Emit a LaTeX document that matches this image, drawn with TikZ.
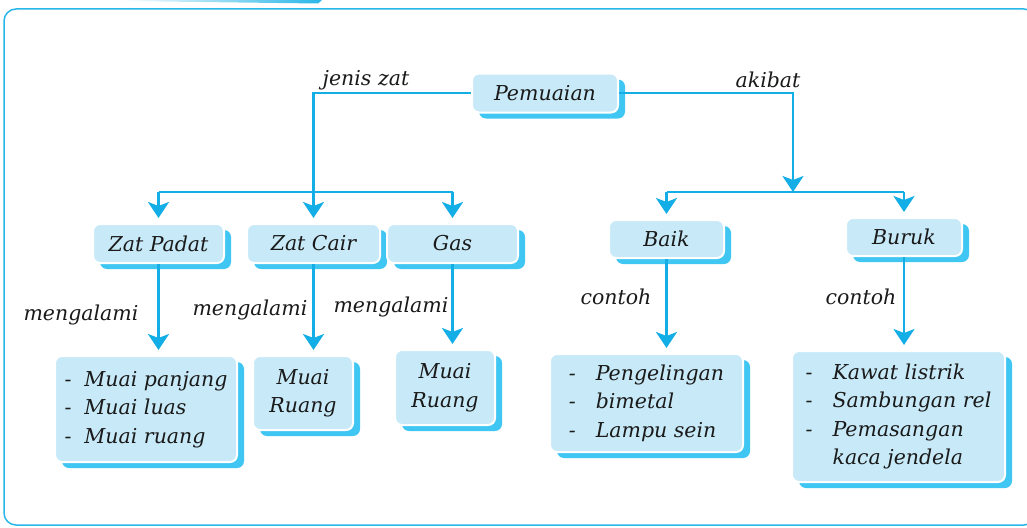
\documentclass[tikz,border=0pt]{standalone}
\usepackage{fontspec}
\setmainfont{DejaVu Serif}
\usetikzlibrary{arrows.meta,shadows}
\definecolor{linecol}{HTML}{14AEE6}
\definecolor{boxfill}{HTML}{C8EAF8}
\definecolor{shadowcol}{HTML}{40C6F2}
\definecolor{framecol}{HTML}{29B6E8}
\definecolor{txt}{HTML}{1A1A1A}
\tikzset{
  box/.style={rounded corners=7pt, fill=boxfill, draw=white, line width=2pt,
    drop shadow={shadow xshift=7pt, shadow yshift=-6pt, fill=shadowcol, opacity=1},
    inner sep=0pt, align=center, text=txt, font=\fontsize{20.5}{28.5}\selectfont\itshape},
  lbl/.style={text=txt, font=\fontsize{20.5}{22}\selectfont\itshape, inner sep=0pt},
  conn/.style={draw=linecol, line width=2.5pt},
  arr/.style={conn, -{Stealth[width=21pt,length=16pt,inset=4pt]}, shorten >=5pt},
}
\begin{document}
\begin{tikzpicture}[x=1pt,y=-1pt]
\useasboundingbox (0,0) rectangle (1027,527);
% frame
\shade[left color=white, right color=framecol] (120,0) -- (322,0) -- (318,3.5) -- (120,1) -- cycle;
\draw[framecol, line width=1.5pt, rounded corners=12pt] (4,9) rectangle (1036,525);
% nodes
\node[box, minimum width=146pt, minimum height=39pt] (P) at (545,93) {Pemuaian};
\node[box, minimum width=131pt, minimum height=39pt] (ZP) at (158.5,243.5) {Zat Padat};
\node[box, minimum width=133pt, minimum height=39pt] (ZC) at (313.5,243.5) {Zat Cair};
\node[box, minimum width=131pt, minimum height=39pt] (G) at (452.5,243.5) {Gas};
\node[box, minimum width=115pt, minimum height=38pt] (Bk) at (666.5,239) {Baik};
\node[box, minimum width=116pt, minimum height=38pt] (Br) at (904,237) {Buruk};
\node[box, minimum width=182pt, minimum height=106pt] (B1) at (146,409)
  {\begin{tabular}{@{}l@{\hspace{13pt}}l@{}}-&Muai panjang\\-&Muai luas\\-&Muai ruang\end{tabular}};
\node[box, minimum width=100pt, minimum height=74pt] (B2) at (303,393) {Muai\\Ruang};
\node[box, minimum width=100pt, minimum height=75pt] (B3) at (445,387.5) {Muai\\Ruang};
\node[box, minimum width=193pt, minimum height=98pt] (B4) at (646.5,403)
  {\begin{tabular}{@{}l@{\hspace{20pt}}l@{}}-&Pengelingan\\-&bimetal\\-&Lampu sein\end{tabular}};
\node[box, minimum width=213pt, minimum height=131pt] (B5) at (898.5,416.5)
  {\begin{tabular}{@{}l@{\hspace{20pt}}l@{}}-&Kawat listrik\\-&Sambungan rel\\-&Pemasangan\\&kaca jendela\end{tabular}};
% labels
\node[lbl] (l1) at (366,80) {jenis zat};
\node[lbl] (l2) at (768,80) {akibat};
\node[lbl] (l3) at (81,315) {mengalami};
\node[lbl] (l4) at (250,310) {mengalami};
\node[lbl] (l5) at (391,307) {mengalami};
\node[lbl] (l6) at (616,297) {contoh};
\node[lbl] (l7) at (861,297) {contoh};
% connectors
\coordinate (hl) at (0,192);
\coordinate (rj) at (793,192);
\draw[conn] (ZP.north |- hl) -- (G.north |- hl);
\draw[arr] (P.west) -| (ZC.north);
\draw[arr] (ZP.north |- hl) -- (ZP.north);
\draw[arr] (G.north |- hl) -- (G.north);
\draw[arr, shorten >=0pt] (P.east) -| (rj);
\draw[conn] (Bk.north |- rj) -- (Br.north |- rj);
\draw[arr] (Bk.north |- rj) -- (Bk.north);
\draw[arr] (Br.north |- rj) -- (Br.north);
\draw[arr] (ZP.south) -- (ZP.south |- B1.north);
\draw[arr] (ZC.south) -- (ZC.south |- B2.north);
\draw[arr] (G.south) -- (G.south |- B3.north);
\draw[arr] (Bk.south) -- (Bk.south |- B4.north);
\draw[arr] (Br.south) -- (Br.south |- B5.north);
\end{tikzpicture}
\end{document}
